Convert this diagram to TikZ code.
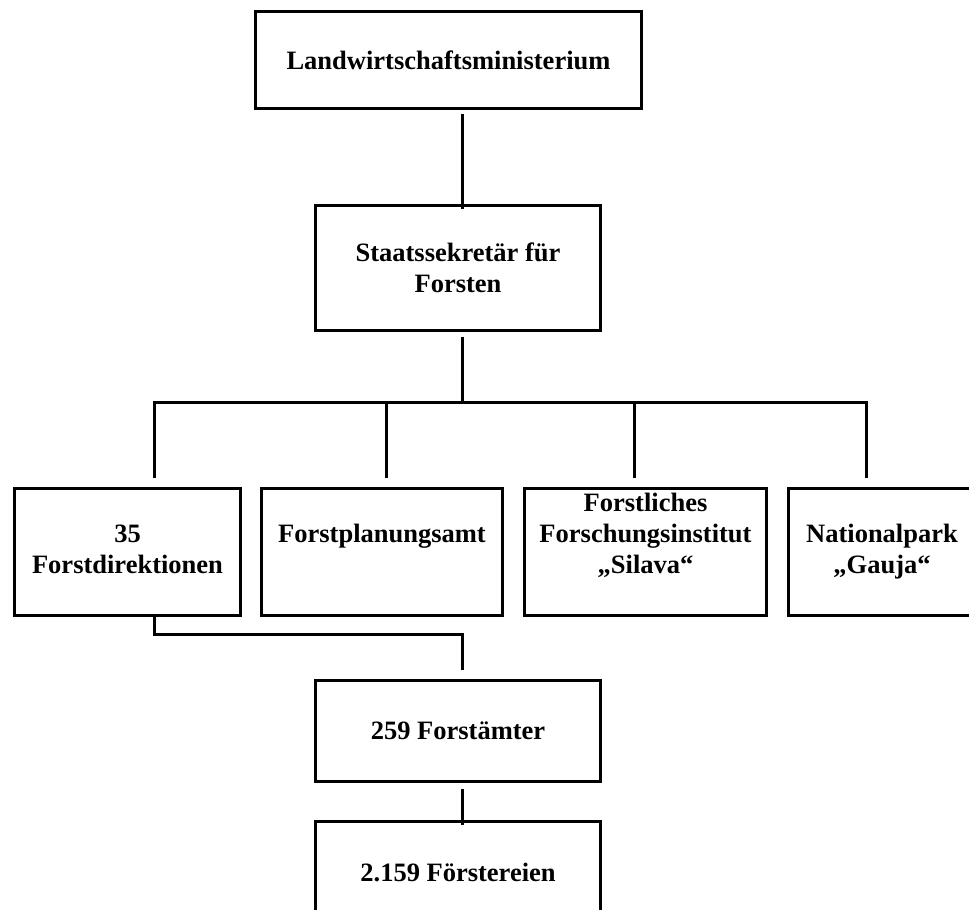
\documentclass[tikz,border=0pt]{standalone}
\usepackage{fontspec}
\setmainfont{Liberation Serif}

\begin{document}
\begin{tikzpicture}[x=1pt,y=-1pt,
		box/.style={draw=black, line width=3.4pt, inner sep=0pt, align=center,
			font=\fontsize{26.5}{31}\selectfont\bfseries},
		link/.style={draw=black, line width=3pt}]
			\useasboundingbox (0,0) rectangle (969,910);
			\clip (0,0) rectangle (969,910);
			\node[box, minimum width=386pt, minimum height=97pt] (minis) at (448.5,60) {Landwirtschaftsministerium};
			\node[box, minimum width=285pt, minimum height=125pt] (staat) at (458,268) {Staatssekretär für\\Forsten};
			\node[box, minimum width=226pt, minimum height=127pt] (fd) at (127.5,552) {\strut\\35\\Forstdirektionen\\\strut};
			\node[box, minimum width=241pt, minimum height=127pt] (fpa) at (382,552) {\strut\\Forstplanungsamt\\\\\strut};
			\node[box, minimum width=242pt, minimum height=127pt] (ffi) at (645.5,552) {\strut Forstliches\\Forschungsinstitut\\„Silava“\\\strut};
			\node[box, minimum width=187pt, minimum height=127pt] (np) at (882,552) {\strut\\Nationalpark\\„Gauja“\\\strut};
			\node[box, minimum width=285pt, minimum height=101pt] (fa) at (458,731) {259 Forstämter};
			\node[box, minimum width=285pt, minimum height=101pt] (fe) at (458,872) {2.159 Förstereien};
			\coordinate (spine) at (462,402);
			\coordinate (dfd) at (154,402);
			\coordinate (dfpa) at (386,402);
			\coordinate (dffi) at (634,402);
			\coordinate (dnp) at (866,402);
			\draw[link, shorten <=4pt, shorten >=-5.5pt] (minis.south -| spine) -- (staat.north -| spine);
			\draw[link, shorten <=4.5pt] (staat.south -| spine) -- (spine);
			\draw[link, shorten <=9pt, shorten >=9pt] (dfd |- fd.north) -- (dfd) -- (dnp) -- (dnp |- np.north);
			\foreach \n in {fpa, ffi}
				\draw[link, shorten >=9pt] (d\n) -- (d\n |- \n.north);
			\draw[link, shorten >=8.5pt] (dfd |- fd.south) -- ++(0,17.5) -| (fa.north -| spine);
			\draw[link, shorten <=5.5pt, shorten >=-5.5pt] (fa.south -| spine) -- (fe.north -| spine);
		\end{tikzpicture}
\end{document}
